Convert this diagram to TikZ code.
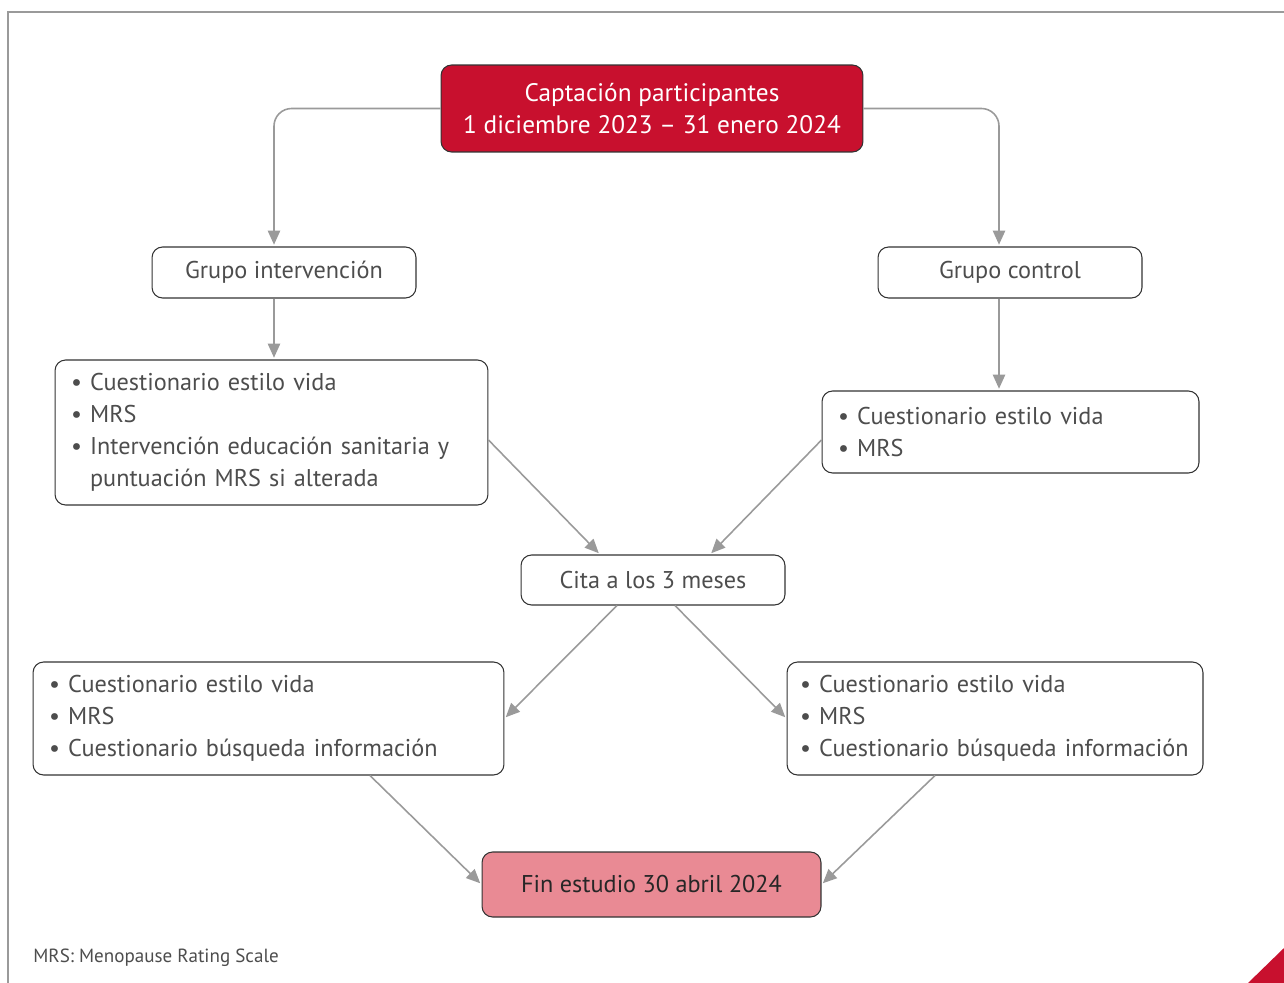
\documentclass[tikz,border=0pt]{standalone}
\usepackage{fontspec}
\setmainfont{PT Sans}
\usepackage{tikz}
\usetikzlibrary{arrows.meta,calc,positioning}
\usepackage{xcolor}

\definecolor{capred}{HTML}{C8102E}
\definecolor{finpink}{HTML}{E98A94}
\definecolor{framegray}{HTML}{9A9A9A}
\definecolor{txtgray}{HTML}{4D4D4D}
\definecolor{boxline}{HTML}{333333}

\newcommand{\bul}{\textbullet\ }
\newcommand{\nobul}{\hphantom{\textbullet\ }}

\tikzset{
    box/.style={draw=boxline, line width=0.6pt, rounded corners=6pt, align=center,
        text=txtgray, font=\fontsize{13.8pt}{18.2pt}\selectfont, inner sep=0pt},
    listbox/.style={box, align=left, inner xsep=0.32cm,
        execute at begin node={\hyphenpenalty=10000}},
    flow/.style={draw=framegray, line width=0.9pt, -{Triangle[length=8pt,width=7pt]}, shorten >=1pt}
}

\begin{document}
\begin{tikzpicture}[x=0.02cm, y=-0.02cm]

    \useasboundingbox (0,0) rectangle (1284,983);

    %frame
    \draw [framegray, line width=0.8pt] (1284,12) -- (8,12) -- (8,983);
    \fill [capred] (1248,983) -- (1284,948) -- (1284,983) -- cycle;

    %nodes
    \draw (652,108.5) node (capt) [box, fill=capred, text=white, minimum width=8.44cm, minimum height=1.74cm,
        font=\fontsize{14.4pt}{18.2pt}\selectfont]
        {Captación participantes\\1 diciembre 2023 -- 31 enero 2024};

    \draw (284,272.5) node (gint) [box, minimum width=5.28cm, minimum height=1.02cm] {Grupo intervención};
    \draw (1010,272.5) node (gcon) [box, minimum width=5.28cm, minimum height=1.02cm] {Grupo control};

    \draw (271.5,432.5) node (int1) [listbox, text width=8.02cm, minimum height=2.9cm]
        {\bul Cuestionario estilo vida\\
         \bul MRS\\
         \bul Intervención educación sanitaria y\\
         \nobul puntuación MRS si alterada};

    \draw (1010.5,432) node (con1) [listbox, text width=6.9cm, minimum height=1.64cm]
        {\bul Cuestionario estilo vida\\
         \bul MRS};

    \draw (653,580) node (cita) [box, minimum width=5.28cm, minimum height=1.0cm] {Cita a los 3 meses};

    \draw (268.5,718.5) node (int2) [listbox, text width=8.78cm, minimum height=2.26cm]
        {\bul Cuestionario estilo vida\\
         \bul MRS\\
         \bul Cuestionario búsqueda información};

    \draw (995,718.5) node (con2) [listbox, text width=7.8cm, inner xsep=0.26cm, minimum height=2.26cm]
        {\bul Cuestionario estilo vida\\
         \bul MRS\\
         \bul Cuestionario búsqueda información};

    \draw (651.5,884.5) node (fin) [box, fill=finpink, text=black!85, minimum width=6.78cm, minimum height=1.3cm]
        {Fin estudio 30 abril 2024};

    \draw (33,958) node (nota) [anchor=west, inner sep=0pt, text=txtgray, font=\fontsize{10.85pt}{12pt}\selectfont]
        {MRS: Menopause Rating Scale};

    %connectors
    \draw [flow, rounded corners=10pt] (capt.west) -| ([xshift=-2mm]gint.north);
    \draw [flow, rounded corners=10pt] (capt.east) -| ([xshift=-2.2mm]gcon.north);

    \draw [flow] ([xshift=-2mm]gint.south) -- ([xshift=-2mm]gint.south |- int1.north);
    \draw [flow] ([xshift=-2.2mm]gcon.south) -- ([xshift=-2.2mm]gcon.south |- con1.north);

    \draw [flow] ([yshift=-1.5mm]int1.east) -- ([xshift=-10.6mm]cita.north);
    \draw [flow] ([yshift=-1.6mm]con1.west) -- ([xshift=11.4mm]cita.north);

    \draw [flow] ([xshift=-7.2mm]cita.south) -- (int2.east);
    \draw [flow] ([xshift=4.4mm]cita.south) -- (con2.west);

    \draw [flow] ([xshift=20.3mm]int2.south) -- (fin.west);
    \draw [flow] ([xshift=-12mm]con2.south) -- (fin.east);

\end{tikzpicture}
\end{document}
